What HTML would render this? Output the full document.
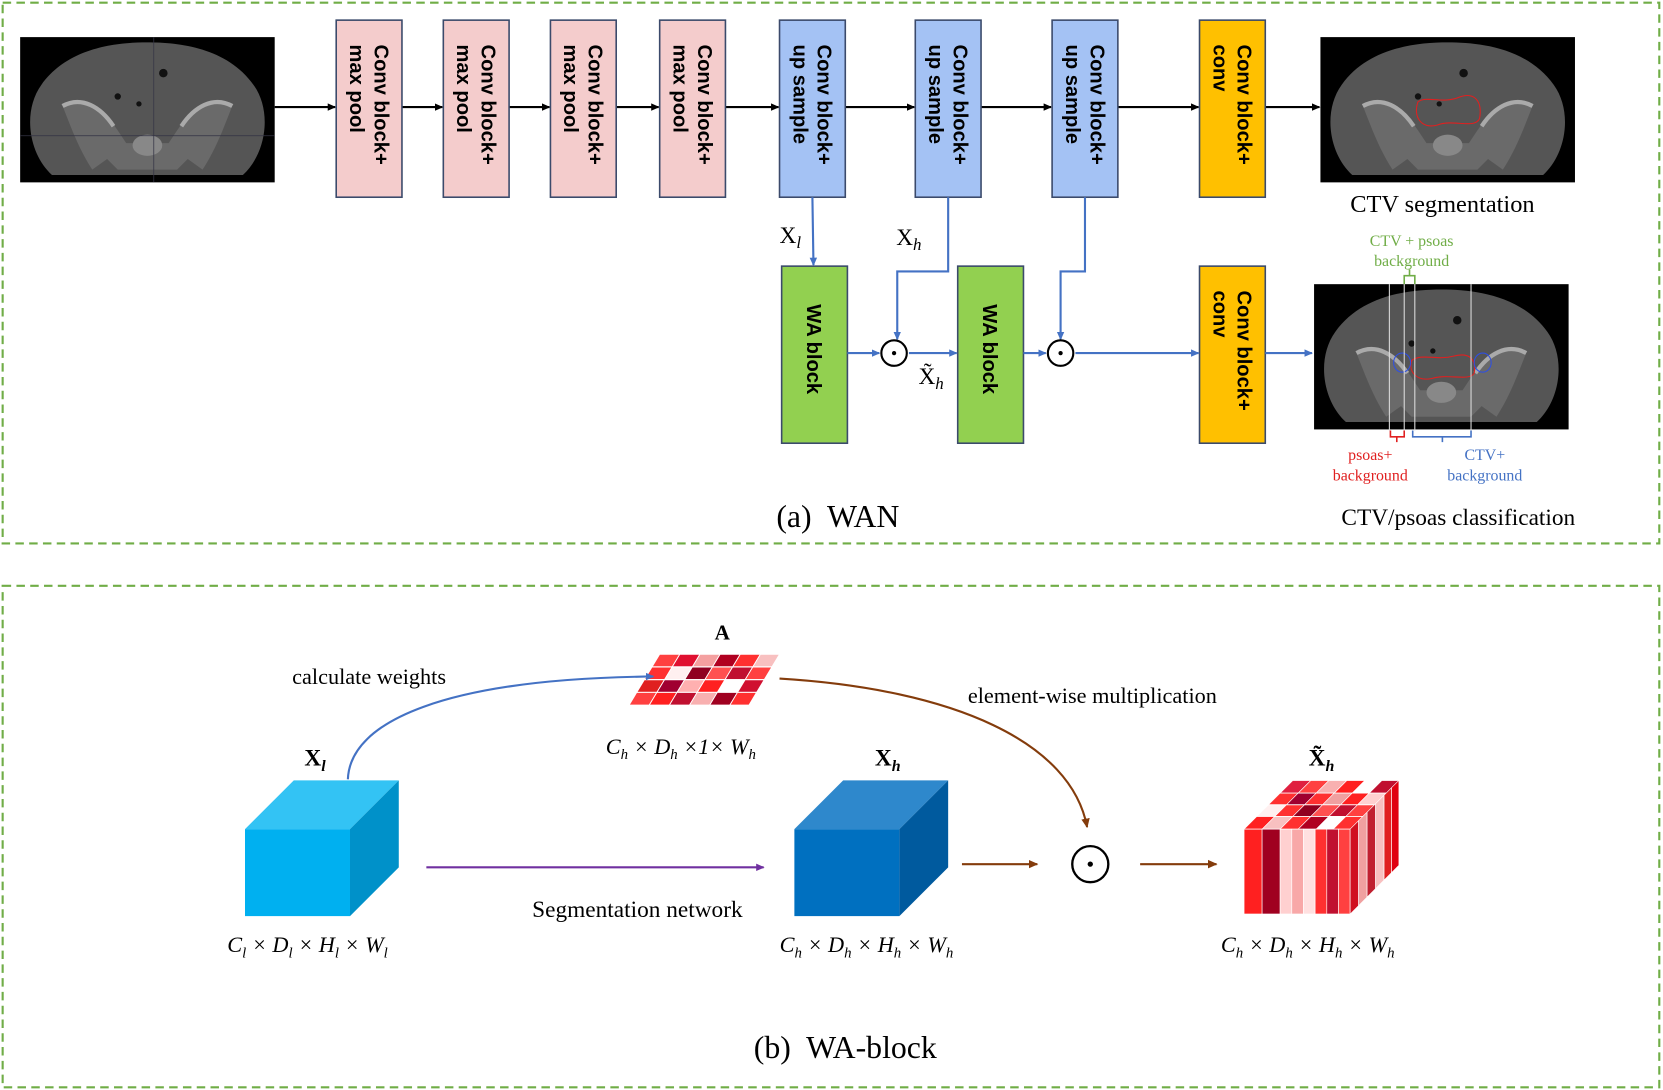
<!DOCTYPE html>
<html><head><meta charset="utf-8"><style>
html,body{margin:0;padding:0;background:#fff;}
svg{display:block;}
.s{font-family:"Liberation Serif",serif;}
.b{font-family:"Liberation Sans",sans-serif;font-weight:bold;font-size:19px;}
</style></head><body>
<svg width="1663" height="1090" viewBox="0 0 1568 1028" preserveAspectRatio="none" xmlns="http://www.w3.org/2000/svg">
<defs>
<marker id="ak" markerWidth="8" markerHeight="8" refX="7" refY="4" orient="auto" markerUnits="userSpaceOnUse"><path d="M0,0.5 L8,4 L0,7.5z" fill="#000"/></marker>
<marker id="ab" markerWidth="8" markerHeight="8" refX="7" refY="4" orient="auto" markerUnits="userSpaceOnUse"><path d="M0,0.5 L8,4 L0,7.5z" fill="#4472c4"/></marker>
<marker id="abr" markerWidth="9" markerHeight="9" refX="8" refY="4.5" orient="auto" markerUnits="userSpaceOnUse"><path d="M0,0.5 L9,4.5 L0,8.5z" fill="#843c0c"/></marker>
<marker id="ap" markerWidth="8" markerHeight="8" refX="7" refY="4" orient="auto" markerUnits="userSpaceOnUse"><path d="M0,0.5 L8,4 L0,7.5z" fill="#7030a0"/></marker>
<g id="ct">
<rect x="0" y="0" width="240" height="137" fill="#000"/>
<path d="M30,130 C8,110 2,70 20,45 C45,10 90,5 120,5 C150,5 195,10 220,45 C238,70 232,110 210,130 Z" fill="#555"/>
<path d="M40,65 C60,55 80,70 92,88 L100,100 L140,100 L148,88 C160,70 180,55 200,65 C192,85 185,105 172,125 L158,115 L148,125 L92,125 L82,115 L68,125 C55,105 48,85 40,65Z" fill="#6a6a6a"/>
<path d="M40,65 C58,55 76,66 88,84" stroke="#aaa" stroke-width="4" fill="none"/>
<path d="M200,65 C182,55 164,66 152,84" stroke="#aaa" stroke-width="4" fill="none"/>
<ellipse cx="120" cy="102" rx="14" ry="10" fill="#888"/>
<circle cx="135" cy="34" r="4" fill="#111"/><circle cx="92" cy="56" r="3" fill="#111"/><circle cx="112" cy="63" r="2.5" fill="#111"/>
</g>
</defs>

<rect x="2.5" y="2.5" width="1562" height="510" fill="none" stroke="#70ad47" stroke-width="2" stroke-dasharray="8,5"/>
<rect x="2.5" y="552.5" width="1562" height="473" fill="none" stroke="#70ad47" stroke-width="2" stroke-dasharray="8,5"/>

<use href="#ct" x="19" y="35"/>
<line x1="19" y1="128" x2="259" y2="128" stroke="#334" stroke-width="0.7"/>
<line x1="145" y1="35" x2="145" y2="172" stroke="#334" stroke-width="0.7"/>

<g stroke="#000" stroke-width="2" marker-end="url(#ak)">
<line x1="259" y1="101" x2="316" y2="101"/>
<line x1="379" y1="101" x2="417" y2="101"/>
<line x1="480" y1="101" x2="518" y2="101"/>
<line x1="581" y1="101" x2="621" y2="101"/>
<line x1="684" y1="101" x2="734" y2="101"/>
<line x1="797" y1="101" x2="862" y2="101"/>
<line x1="925" y1="101" x2="991" y2="101"/>
<line x1="1054" y1="101" x2="1130" y2="101"/>
<line x1="1193" y1="101" x2="1244" y2="101"/>
</g>

<g stroke="#3b4a6b" stroke-width="1.5">
<rect x="317" y="19" width="62" height="167" fill="#f4cccc"/>
<rect x="418" y="19" width="62" height="167" fill="#f4cccc"/>
<rect x="519" y="19" width="62" height="167" fill="#f4cccc"/>
<rect x="622" y="19" width="62" height="167" fill="#f4cccc"/>
<rect x="735" y="19" width="62" height="167" fill="#a4c2f4"/>
<rect x="863" y="19" width="62" height="167" fill="#a4c2f4"/>
<rect x="992" y="19" width="62" height="167" fill="#a4c2f4"/>
<rect x="1131" y="19" width="62" height="167" fill="#ffc000"/>
<rect x="1131" y="251" width="62" height="167" fill="#ffc000"/>
<rect x="737" y="251" width="62" height="167" fill="#92d050"/>
<rect x="903" y="251" width="62" height="167" fill="#92d050"/>
</g>
<g class="b">
<text transform="translate(353,42) rotate(90)">Conv block+</text><text transform="translate(330,42) rotate(90)">max pool</text>
<text transform="translate(454,42) rotate(90)">Conv block+</text><text transform="translate(431,42) rotate(90)">max pool</text>
<text transform="translate(555,42) rotate(90)">Conv block+</text><text transform="translate(532,42) rotate(90)">max pool</text>
<text transform="translate(658,42) rotate(90)">Conv block+</text><text transform="translate(635,42) rotate(90)">max pool</text>
<text transform="translate(771,42) rotate(90)">Conv block+</text><text transform="translate(748,42) rotate(90)">up sample</text>
<text transform="translate(899,42) rotate(90)">Conv block+</text><text transform="translate(876,42) rotate(90)">up sample</text>
<text transform="translate(1028,42) rotate(90)">Conv block+</text><text transform="translate(1005,42) rotate(90)">up sample</text>
<text transform="translate(1167,42) rotate(90)">Conv block+</text><text transform="translate(1144,42) rotate(90)">conv</text>
<text transform="translate(1167,274) rotate(90)">Conv block+</text><text transform="translate(1144,274) rotate(90)">conv</text>
<text transform="translate(761,287) rotate(90)">WA block</text>
<text transform="translate(927,287) rotate(90)">WA block</text>
</g>

<g stroke="#4472c4" stroke-width="2" fill="none" marker-end="url(#ab)">
<polyline points="766,186 767,250"/>
<polyline points="894,186 894,256 846,256 846,320"/>
<polyline points="1023,186 1023,256 1000,256 1000,320"/>
<line x1="799" y1="333" x2="829" y2="333"/>
<line x1="857" y1="333" x2="902" y2="333"/>
<line x1="965" y1="333" x2="986" y2="333"/>
<line x1="1014" y1="333" x2="1130" y2="333"/>
<line x1="1193" y1="333" x2="1237" y2="333"/>
</g>
<g fill="#fff" stroke="#000" stroke-width="2">
<circle cx="843" cy="333" r="12"/><circle cx="1000" cy="333" r="12"/>
</g>
<circle cx="843" cy="333" r="2" fill="#000"/><circle cx="1000" cy="333" r="2" fill="#000"/>
<g class="s" font-size="22">
<text x="735" y="229">X<tspan font-style="italic" font-size="16" dy="5">l</tspan></text>
<text x="845" y="231">X<tspan font-style="italic" font-size="16" dy="5">h</tspan></text>
<text x="866" y="362">X̃<tspan font-style="italic" font-size="16" dy="5">h</tspan></text>
</g>

<use href="#ct" x="1245" y="35"/>
<path d="M1337,96 C1345,90 1360,98 1375,92 C1390,86 1398,95 1395,112 C1390,122 1370,112 1355,118 C1340,122 1332,110 1337,96Z" fill="none" stroke="#e02020" stroke-width="1"/>
<text class="s" x="1360" y="200" font-size="23" text-anchor="middle">CTV segmentation</text>

<use href="#ct" x="1239" y="268"/>
<path d="M1331,340 C1340,333 1355,340 1370,336 C1385,332 1392,338 1390,352 C1385,360 1365,352 1350,357 C1335,360 1328,350 1331,340Z" fill="none" stroke="#e02020" stroke-width="1"/>
<ellipse cx="1322" cy="342" rx="8" ry="9" fill="none" stroke="#3050e0" stroke-width="1"/>
<ellipse cx="1398" cy="342" rx="8" ry="9" fill="none" stroke="#3050e0" stroke-width="1"/>
<g stroke="#ddd" stroke-width="1">
<line x1="1310" y1="268" x2="1310" y2="406"/><line x1="1324" y1="268" x2="1324" y2="406"/>
<line x1="1334" y1="268" x2="1334" y2="406"/><line x1="1387" y1="268" x2="1387" y2="406"/>
</g>
<path d="M1324,268 V260 H1334 V268 M1329,260 V254" stroke="#70ad47" stroke-width="1.5" fill="none"/>
<path d="M1311,406 V412 H1324 V406 M1317,412 V417" stroke="#e02020" stroke-width="1.5" fill="none"/>
<path d="M1332,406 V412 H1387 V406 M1360,412 V417" stroke="#4472c4" stroke-width="1.5" fill="none"/>
<g class="s" font-size="15" text-anchor="middle">
<text x="1331" y="232" fill="#70ad47">CTV + psoas</text>
<text x="1331" y="251" fill="#70ad47">background</text>
<text x="1292" y="434" fill="#e02020">psoas+</text>
<text x="1292" y="453" fill="#e02020">background</text>
<text x="1400" y="434" fill="#4472c4">CTV+</text>
<text x="1400" y="453" fill="#4472c4">background</text>
</g>
<text class="s" x="790" y="497" font-size="30" text-anchor="middle" xml:space="preserve">(a)  WAN</text>
<text class="s" x="1375" y="495" font-size="22" text-anchor="middle">CTV/psoas classification</text>

<g transform="translate(622,617) skewX(-31)" stroke="#fff" stroke-width="1">
<rect x="0" y="0" width="113" height="48" fill="#ff2020"/>
<rect x="0" y="0" width="19" height="12" fill="#ff4040"/><rect x="19" y="0" width="19" height="12" fill="#e01030"/><rect x="38" y="0" width="19" height="12" fill="#f4a0a0"/><rect x="57" y="0" width="19" height="12" fill="#b00020"/><rect x="76" y="0" width="19" height="12" fill="#ff3030"/><rect x="95" y="0" width="18" height="12" fill="#f8c0c0"/>
<rect x="0" y="12" width="19" height="12" fill="#ff3030"/><rect x="19" y="12" width="19" height="12" fill="#fff0f0"/><rect x="38" y="12" width="19" height="12" fill="#900020"/><rect x="57" y="12" width="19" height="12" fill="#ff5050"/><rect x="76" y="12" width="19" height="12" fill="#c01030"/><rect x="95" y="12" width="18" height="12" fill="#ff4040"/>
<rect x="0" y="24" width="19" height="12" fill="#e02020"/><rect x="19" y="24" width="19" height="12" fill="#a00030"/><rect x="38" y="24" width="19" height="12" fill="#ffb0b0"/><rect x="57" y="24" width="19" height="12" fill="#ff2020"/><rect x="76" y="24" width="19" height="12" fill="#fff"/><rect x="95" y="24" width="18" height="12" fill="#d01030"/>
<rect x="0" y="36" width="19" height="12" fill="#ff4040"/><rect x="19" y="36" width="19" height="12" fill="#ff2020"/><rect x="38" y="36" width="19" height="12" fill="#c01030"/><rect x="57" y="36" width="19" height="12" fill="#f8b0b0"/><rect x="76" y="36" width="19" height="12" fill="#a00020"/><rect x="95" y="36" width="18" height="12" fill="#ff3030"/>
</g>
<text class="s" x="681" y="603" font-size="20" font-weight="bold" text-anchor="middle">A</text>
<text class="s" x="348" y="645" font-size="21" text-anchor="middle">calculate weights</text>
<text class="s" x="1030" y="663" font-size="21" text-anchor="middle">element-wise multiplication</text>
<text class="s" x="642" y="711" font-size="21" font-style="italic" text-anchor="middle">C<tspan font-size="14" dy="5">h</tspan><tspan dy="-5"> × D</tspan><tspan font-size="14" dy="5">h</tspan><tspan dy="-5"> ×1× W</tspan><tspan font-size="14" dy="5">h</tspan></text>

<path d="M328,735 C330,680 420,640 616,638" stroke="#4472c4" stroke-width="2" fill="none" marker-end="url(#ab)"/>
<path d="M735,640 C900,650 1010,700 1025,780" stroke="#843c0c" stroke-width="2" fill="none" marker-end="url(#abr)"/>

<polygon points="231,782 277,736 376,736 330,782" fill="#33c3f4"/>
<polygon points="330,782 376,736 376,818 330,864" fill="#0091c9"/>
<rect x="231" y="782" width="99" height="82" fill="#00b0f0"/>
<text class="s" x="297" y="722" font-size="22" font-weight="bold" text-anchor="middle">X<tspan font-size="15" font-style="italic" dy="5">l</tspan></text>
<text class="s" x="290" y="898" font-size="21" font-style="italic" text-anchor="middle">C<tspan font-size="14" dy="5">l</tspan><tspan dy="-5"> × D</tspan><tspan font-size="14" dy="5">l</tspan><tspan dy="-5"> × H</tspan><tspan font-size="14" dy="5">l</tspan><tspan dy="-5"> × W</tspan><tspan font-size="14" dy="5">l</tspan></text>

<line x1="402" y1="818" x2="720" y2="818" stroke="#7030a0" stroke-width="2" marker-end="url(#ap)"/>
<text class="s" x="601" y="865" font-size="22" text-anchor="middle">Segmentation network</text>

<polygon points="749,782 795,736 894,736 848,782" fill="#2e88cc"/>
<polygon points="848,782 894,736 894,818 848,864" fill="#005a9e"/>
<rect x="749" y="782" width="99" height="82" fill="#0070c0"/>
<text class="s" x="837" y="722" font-size="22" font-weight="bold" text-anchor="middle">X<tspan font-size="15" font-style="italic" dy="5">h</tspan></text>
<text class="s" x="817" y="898" font-size="21" font-style="italic" text-anchor="middle">C<tspan font-size="14" dy="5">h</tspan><tspan dy="-5"> × D</tspan><tspan font-size="14" dy="5">h</tspan><tspan dy="-5"> × H</tspan><tspan font-size="14" dy="5">h</tspan><tspan dy="-5"> × W</tspan><tspan font-size="14" dy="5">h</tspan></text>

<line x1="907" y1="815" x2="978" y2="815" stroke="#843c0c" stroke-width="2" marker-end="url(#abr)"/>
<circle cx="1028" cy="815" r="17" fill="#fff" stroke="#000" stroke-width="2.2"/>
<circle cx="1028" cy="815" r="2.5" fill="#000"/>
<line x1="1075" y1="815" x2="1147" y2="815" stroke="#843c0c" stroke-width="2" marker-end="url(#abr)"/>

<g transform="translate(1173,782) skewX(-45)" stroke="#fff" stroke-width="0.8">
<rect x="0" y="-46" width="100" height="46" fill="#ff2020"/>
<rect x="0" y="-46" width="17" height="12" fill="#e02040"/><rect x="17" y="-46" width="17" height="12" fill="#ff4040"/><rect x="34" y="-46" width="17" height="12" fill="#f8b0b0"/><rect x="51" y="-46" width="17" height="12" fill="#ff2020"/><rect x="68" y="-46" width="16" height="12" fill="#fff"/><rect x="84" y="-46" width="16" height="12" fill="#c01030"/>
<rect x="0" y="-34" width="17" height="11" fill="#ff3030"/><rect x="17" y="-34" width="17" height="11" fill="#a00030"/><rect x="34" y="-34" width="17" height="11" fill="#ff3030"/><rect x="51" y="-34" width="17" height="11" fill="#f0a0a0"/><rect x="68" y="-34" width="16" height="11" fill="#ff2020"/><rect x="84" y="-34" width="16" height="11" fill="#ffd0d0"/>
<rect x="0" y="-23" width="17" height="11" fill="#fff0f0"/><rect x="17" y="-23" width="17" height="11" fill="#ff3030"/><rect x="34" y="-23" width="17" height="11" fill="#900020"/><rect x="51" y="-23" width="17" height="11" fill="#ff5050"/><rect x="68" y="-23" width="16" height="11" fill="#c01030"/><rect x="84" y="-23" width="16" height="11" fill="#ff4040"/>
<rect x="0" y="-12" width="17" height="12" fill="#ff2020"/><rect x="17" y="-12" width="17" height="12" fill="#f8c0c0"/><rect x="34" y="-12" width="17" height="12" fill="#ff3030"/><rect x="51" y="-12" width="17" height="12" fill="#b00020"/><rect x="68" y="-12" width="16" height="12" fill="#fff"/><rect x="84" y="-12" width="16" height="12" fill="#ff3030"/>
</g>
<g stroke="#fff" stroke-width="0.6">
<rect x="1173" y="782" width="17" height="80" fill="#ff2020"/>
<rect x="1190" y="782" width="17" height="80" fill="#a00020"/>
<rect x="1207" y="782" width="11" height="80" fill="#ffd0d0"/>
<rect x="1218" y="782" width="11" height="80" fill="#f8a8a8"/>
<rect x="1229" y="782" width="11" height="80" fill="#ffe0e0"/>
<rect x="1240" y="782" width="11" height="80" fill="#ff3030"/>
<rect x="1251" y="782" width="11" height="80" fill="#c01030"/>
<rect x="1262" y="782" width="11" height="80" fill="#ff4040"/>
</g>
<g transform="translate(1273,782) skewY(-45)" stroke="#fff" stroke-width="0.6">
<rect x="0" y="0" width="8" height="80" fill="#d01020"/>
<rect x="8" y="0" width="8" height="80" fill="#f0a0a0"/>
<rect x="16" y="0" width="8" height="80" fill="#c02030"/>
<rect x="24" y="0" width="8" height="80" fill="#f8c0c0"/>
<rect x="32" y="0" width="7" height="80" fill="#e02020"/>
<rect x="39" y="0" width="7" height="80" fill="#e00010"/>
</g>
<text class="s" x="1246" y="722" font-size="22" font-weight="bold" text-anchor="middle">X̃<tspan font-size="15" font-style="italic" dy="5">h</tspan></text>
<text class="s" x="1233" y="898" font-size="21" font-style="italic" text-anchor="middle">C<tspan font-size="14" dy="5">h</tspan><tspan dy="-5"> × D</tspan><tspan font-size="14" dy="5">h</tspan><tspan dy="-5"> × H</tspan><tspan font-size="14" dy="5">h</tspan><tspan dy="-5"> × W</tspan><tspan font-size="14" dy="5">h</tspan></text>

<text class="s" x="797" y="998" font-size="30" text-anchor="middle" xml:space="preserve">(b)  WA-block</text>
</svg>
</body></html>
